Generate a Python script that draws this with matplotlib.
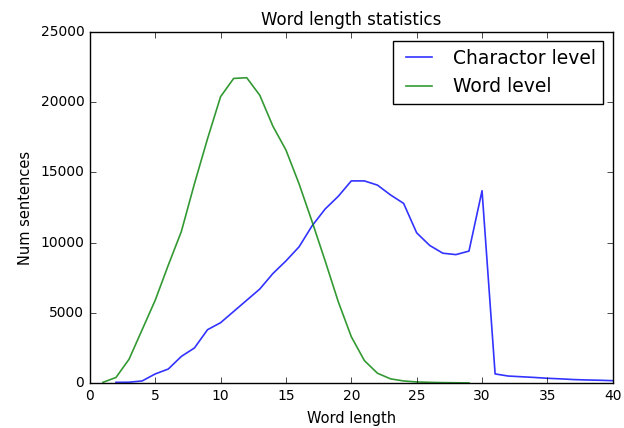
import matplotlib

matplotlib.use("Agg")
import matplotlib.pyplot as plt

# Values.
char_x = list(range(2, 41))
char_counts = [
    50, 60, 150, 650, 1000, 1900, 2500, 3800, 4300, 5100,
    5900, 6700, 7800, 8700, 9700, 11200, 12400, 13300, 14400, 14400,
    14100, 13400, 12800, 10700, 9800, 9250, 9150, 9400, 13700, 650,
    500, 450, 400, 340, 300, 250, 220, 200, 170,
]

word_x = list(range(1, 30))
word_counts = [
    50, 400, 1700, 3800, 5900, 8400, 10800, 14200, 17400, 20400,
    21700, 21750, 20500, 18300, 16600, 14200, 11500, 8700, 5800, 3300,
    1600, 700, 300, 150, 80, 50, 30, 20, 10,
]

plt.style.use("classic")
plt.rcParams["font.family"] = ["DejaVu Sans"]

fig = plt.figure(figsize=(6.24, 4.28), dpi=100, facecolor="white")
ax = fig.add_axes([0.144, 0.105, 0.838, 0.82])
ax.plot(char_x, char_counts, color="b", alpha=0.8, linewidth=1.2, label="Charactor level")
ax.plot(word_x, word_counts, color="g", alpha=0.8, linewidth=1.2, label="Word level")

ax.set_xlim(0, 40)
ax.set_ylim(0, 25000)
ax.tick_params(labelsize=10)
ax.set_xlabel("Word length", fontsize=10.5, labelpad=6)
ax.set_ylabel("Num sentences", fontsize=10.5)
ax.set_title("Word length statistics", fontsize=12)
ax.legend(loc="upper right", fontsize=13.5)

fig.savefig("out.png", dpi=100, facecolor="white")
